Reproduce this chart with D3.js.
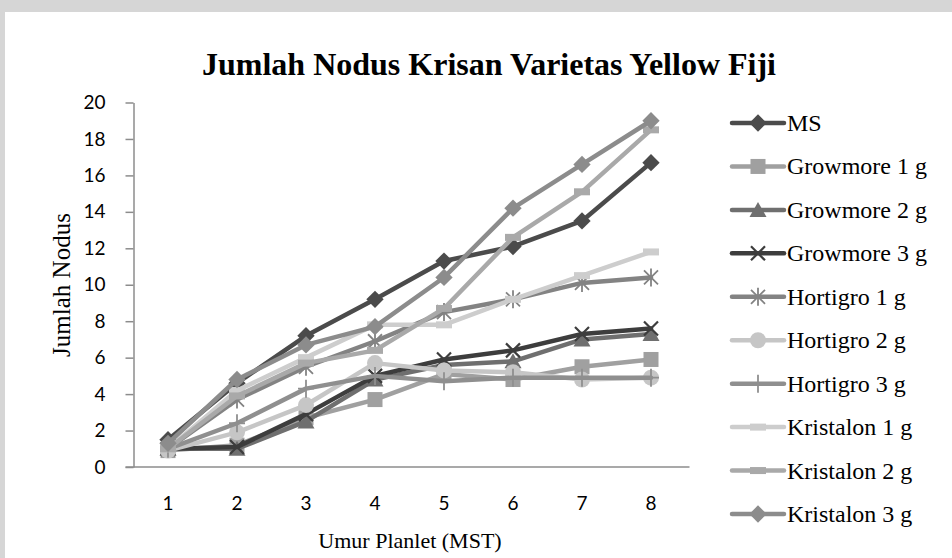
<!DOCTYPE html>
<html>
<head>
<meta charset="utf-8">
<script src="https://cdn.jsdelivr.net/npm/d3@7"></script>
<style>
  body { margin: 0; background: #fff; }
  svg { display: block; }
</style>
</head>
<body>
<svg id="chart"></svg>
<script>
// Data
const categories = ['1', '2', '3', '4', '5', '6', '7', '8'];
const yTicks = [0, 2, 4, 6, 8, 10, 12, 14, 16, 18, 20];

const seriesNames = ['MS', 'Growmore 1 g', 'Growmore 2 g', 'Growmore 3 g', 'Hortigro 1 g',
  'Hortigro 2 g', 'Hortigro 3 g', 'Kristalon 1 g', 'Kristalon 2 g', 'Kristalon 3 g'];

const msValues        = [1.5, 4.6, 7.2, 9.2, 11.3, 12.1, 13.5, 16.7];
const growmore1Values = [0.9, 1.2, 2.7, 3.7, 5.1, 4.8, 5.5, 5.9];
const growmore2Values = [1.0, 1.0, 2.5, 4.8, 5.6, 5.8, 7.0, 7.3];
const growmore3Values = [1.0, 1.1, 2.9, 5.0, 5.9, 6.4, 7.3, 7.6];
const hortigro1Values = [1.0, 3.7, 5.5, 6.9, 8.5, 9.2, 10.1, 10.4];
const hortigro2Values = [0.9, 1.9, 3.4, 5.7, 5.3, 5.2, 4.8, 4.9];
const hortigro3Values = [1.0, 2.4, 4.3, 5.0, 4.7, 4.9, 4.9, 4.9];
const kristalon1Values = [1.0, 4.2, 6.0, 7.8, 7.8, 9.2, 10.5, 11.8];
const kristalon2Values = [1.0, 3.9, 5.7, 6.4, 8.7, 12.6, 15.1, 18.5];
const kristalon3Values = [1.3, 4.8, 6.7, 7.7, 10.4, 14.2, 16.6, 19.0];

const seriesValues = [msValues, growmore1Values, growmore2Values, growmore3Values, hortigro1Values,
  hortigro2Values, hortigro3Values, kristalon1Values, kristalon2Values, kristalon3Values];

// look of each series (grey scale copy of the Excel chart)
const seriesStyle = [
  {color: '#4b4b4b', marker: 'diamond'},
  {color: '#a0a0a0', marker: 'square'},
  {color: '#6f6f6f', marker: 'triangle'},
  {color: '#3d3d3d', marker: 'x'},
  {color: '#838383', marker: 'star'},
  {color: '#c6c6c6', marker: 'circle'},
  {color: '#8f8f8f', marker: 'plus'},
  {color: '#cdcdcd', marker: 'dash'},
  {color: '#a9a9a9', marker: 'dash'},
  {color: '#8c8c8c', marker: 'diamond'}
];

const series = seriesNames.map((name, i) => ({
  name: name,
  values: seriesValues[i].map((v, j) => ({cat: categories[j], value: v})),
  color: seriesStyle[i].color,
  marker: seriesStyle[i].marker
}));

const width = 952, height = 558;
const margin = {top: 102.5, right: 266.5, bottom: 91, left: 133.5};
const serif = '"Liberation Serif", "Times New Roman", serif';

const svg = d3.select('#chart')
    .attr('width', width)
    .attr('height', height);

// grey page frame behind the chart (scan border)
svg.append('rect')
    .attr('width', width).attr('height', height)
    .attr('fill', '#d6d6d6');
svg.append('rect')
    .attr('x', 5).attr('y', 12)
    .attr('width', width - 5).attr('height', height - 12)
    .attr('fill', '#fff');

const xScale = d3.scaleBand()
    .domain(categories)
    .range([margin.left, width - margin.right]);

const yScale = d3.scaleLinear()
    .domain([0, 20])
    .range([height - margin.bottom, margin.top]);

const xPos = d => xScale(d.cat) + xScale.bandwidth() / 2;

// Title
svg.append('text')
    .attr('x', 489)
    .attr('y', 75)
    .attr('text-anchor', 'middle')
    .style('font-family', serif)
    .style('font-weight', 'bold')
    .style('font-size', '32px')
    .text('Jumlah Nodus Krisan Varietas Yellow Fiji');

// Axes
const yAxis = d3.axisLeft(yScale)
    .tickValues(yTicks)
    .tickSize(8)
    .tickPadding(20)
    .tickSizeOuter(0);

const yAxisG = svg.append('g')
    .attr('transform', `translate(${margin.left},0)`)
    .call(yAxis);

yAxisG.select('.domain').attr('stroke', '#8c8c8c').attr('stroke-width', 1.5);
yAxisG.selectAll('.tick line').attr('stroke', '#8c8c8c').attr('stroke-width', 1.5);
yAxisG.selectAll('.tick text')
    .style('font-family', 'Lato, "Open Sans", sans-serif')
    .style('font-size', '19px')
    .attr('fill', '#000');

const xAxis = d3.axisBottom(xScale)
    .tickSize(0)
    .tickPadding(30)
    .tickSizeOuter(0);

const xAxisG = svg.append('g')
    .attr('transform', `translate(0,${height - margin.bottom})`)
    .call(xAxis);

xAxisG.select('.domain')
    .attr('stroke', '#8c8c8c').attr('stroke-width', 1.5)
    .attr('d', `M${margin.left - 8},0H${width - margin.right + 4}`);
xAxisG.selectAll('.tick text')
    .style('font-family', 'Lato, "Open Sans", sans-serif')
    .style('font-size', '19px')
    .attr('fill', '#000');

// Axis titles
svg.append('text')
    .attr('x', 410)
    .attr('y', 548)
    .attr('text-anchor', 'middle')
    .style('font-family', serif)
    .style('font-size', '22px')
    .text('Umur Planlet (MST)');

svg.append('text')
    .attr('transform', 'translate(70,285) rotate(-90)')
    .attr('text-anchor', 'middle')
    .style('font-family', serif)
    .style('font-size', '25px')
    .text('Jumlah Nodus');

// marker shapes
function drawMarker(g, type, color) {
  if (type === 'diamond') {
    g.append('path').attr('d', d3.symbol().type(d3.symbolSquare).size(150)())
        .attr('transform', 'rotate(45)').attr('fill', color);
  } else if (type === 'square') {
    g.append('rect').attr('x', -7.5).attr('y', -7.5).attr('width', 15).attr('height', 15)
        .attr('fill', color);
  } else if (type === 'triangle') {
    g.append('path').attr('d', 'M0,-8L8.5,7L-8.5,7Z').attr('fill', color);
  } else if (type === 'circle') {
    g.append('circle').attr('r', 8).attr('fill', color);
  } else if (type === 'x') {
    g.append('path').attr('d', 'M-7,-7L7,7M-7,7L7,-7')
        .attr('stroke', color).attr('stroke-width', 2.2).attr('fill', 'none');
  } else if (type === 'star') {
    g.append('path').attr('d', 'M-7,-7L7,7M-7,7L7,-7M0,-9V9')
        .attr('stroke', color).attr('stroke-width', 1.8).attr('fill', 'none');
  } else if (type === 'plus') {
    g.append('path').attr('d', 'M0,-9V9M-8,0H8')
        .attr('stroke', color).attr('stroke-width', 1.8).attr('fill', 'none');
  } else if (type === 'dash') {
    g.append('rect').attr('x', -8).attr('y', -3.5).attr('width', 16).attr('height', 7)
        .attr('fill', color);
  }
}

const line = d3.line()
    .x(xPos)
    .y(d => yScale(d.value));

// Series, drawn in order so the last one sits on top
const seriesG = svg.append('g').selectAll('.series')
    .data(series)
  .join('g')
    .attr('class', 'series');

seriesG.append('path')
    .attr('d', d => line(d.values))
    .attr('fill', 'none')
    .attr('stroke', d => d.color)
    .attr('stroke-width', 4.5)
    .attr('stroke-linejoin', 'round')
    .attr('stroke-linecap', 'round');

seriesG.each(function(s) {
  d3.select(this).selectAll('.pt')
      .data(s.values)
    .join('g')
      .attr('class', 'pt')
      .attr('transform', d => `translate(${xPos(d)},${yScale(d.value)})`)
      .each(function() { drawMarker(d3.select(this), s.marker, s.color); });
});

// Legend
const legendY = d3.scalePoint()
    .domain(seriesNames)
    .range([123, 514]);

const legend = svg.append('g').selectAll('.legend')
    .data(series)
  .join('g')
    .attr('class', 'legend')
    .attr('transform', d => `translate(730,${legendY(d.name)})`);

legend.append('line')
    .attr('x1', 2).attr('x2', 54)
    .attr('stroke', d => d.color)
    .attr('stroke-width', 4.5)
    .attr('stroke-linecap', 'round');

legend.each(function(s) {
  const m = d3.select(this).append('g').attr('transform', 'translate(28,0)');
  drawMarker(m, s.marker, s.color);
});

legend.append('text')
    .attr('x', 57)
    .attr('y', 8)
    .style('font-family', serif)
    .style('font-size', '24px')
    .text(d => d.name);
</script>
</body>
</html>
